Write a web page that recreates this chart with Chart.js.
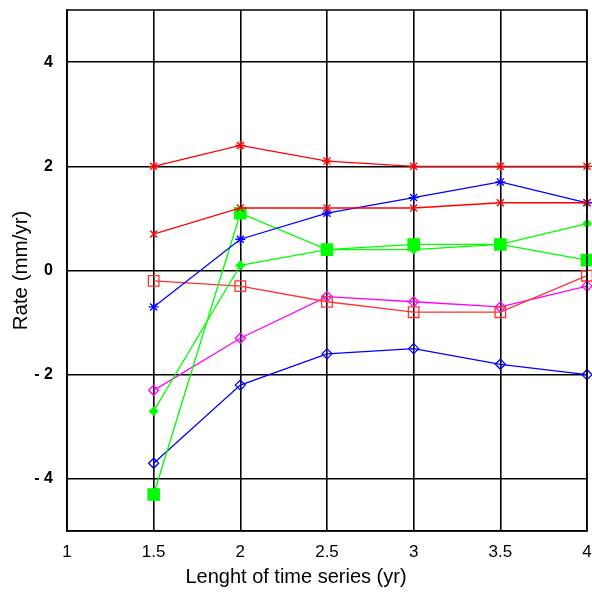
<!DOCTYPE html>
<html>
<head>
<meta charset="utf-8">
<script src="https://cdn.jsdelivr.net/npm/chart.js@4"></script>
<style>
  html, body { margin: 0; padding: 0; background: #fff; }
  #wrap { width: 592px; height: 592px; }
</style>
</head>
<body>
<div id="wrap"><canvas id="rateChart"></canvas></div>
<script>
const lengths = [1.5, 2, 2.5, 3, 3.5, 4];
const yTicks = [-4, -2, 0, 2, 4];

const redStar = [2.0, 2.4, 2.1, 2.0, 2.0, 2.0];
const redCross = [0.7, 1.2, 1.2, 1.2, 1.3, 1.3];
const blueStar = [-0.7, 0.6, 1.1, 1.4, 1.7, 1.3];
const greenDiamond = [-2.7, 0.1, 0.4, 0.4, 0.5, 0.9];
const greenSquare = [-4.3, 1.1, 0.4, 0.5, 0.5, 0.2];
const redSquare = [-0.2, -0.3, -0.6, -0.8, -0.8, -0.1];
const magentaDiamond = [-2.3, -1.3, -0.5, -0.6, -0.7, -0.3];
const blueDiamond = [-3.7, -2.2, -1.6, -1.5, -1.8, -2.0];

function pts(values) {
    return lengths.map((x, i) => ({ x: x, y: values[i] }));
}

function series(values, color, style, radius, filled) {
    return {
        data: pts(values),
        borderColor: color,
        borderWidth: 1.3,
        pointStyle: style,
        pointRadius: radius,
        pointBorderColor: color,
        pointBorderWidth: 1.3,
        pointBackgroundColor: filled ? color : 'rgba(0,0,0,0)',
        fill: false,
        tension: 0
    };
}

// frame around the plot area
const framePlugin = {
    id: 'frame',
    afterDraw(chart) {
        const a = chart.chartArea;
        const ctx = chart.ctx;
        ctx.save();
        ctx.strokeStyle = '#000';
        ctx.lineWidth = 1.5;
        ctx.strokeRect(a.left, a.top, a.right - a.left, a.bottom - a.top);
        ctx.restore();
    }
};

const ctx = document.getElementById('rateChart').getContext('2d');
new Chart(ctx, {
    type: 'line',
    data: {
        datasets: [
            series(redStar, '#ff0000', 'star', 5, false),
            series(redCross, '#ff0000', 'crossRot', 5, false),
            series(blueStar, '#0000ff', 'star', 5, false),
            series(greenDiamond, '#00ff00', 'rectRot', 4, true),
            series(greenSquare, '#00ff00', 'rect', 8, true),
            series(redSquare, '#ff3333', 'rect', 7.5, false),
            series(magentaDiamond, '#ff00ff', 'rectRot', 5, false),
            series(blueDiamond, '#0000ff', 'rectRot', 5, false)
        ]
    },
    options: {
        responsive: true,
        maintainAspectRatio: false,
        animation: false,
        clip: false,
        layout: { autoPadding: false, padding: { top: 10, right: 0, bottom: 0, left: 0 } },
        plugins: {
            legend: { display: false },
            tooltip: { enabled: false },
            title: {
                display: true,
                position: 'bottom',
                text: 'Lenght of time series (yr)',
                color: '#000',
                padding: { top: 2, bottom: 3 },
                font: { family: 'Liberation Sans', size: 20, weight: 'normal' }
            }
        },
        scales: {
            x: {
                type: 'linear',
                min: 1,
                max: 4,
                afterFit(axis) {
                    axis.height = 32;
                    axis.paddingLeft = 0;
                    axis.paddingRight = 5;
                },
                ticks: {
                    stepSize: 0.5,
                    color: '#000',
                    padding: 11,
                    font: { family: 'Liberation Sans', size: 17 },
                    callback: v => String(v)
                },
                grid: { color: '#000', lineWidth: 1.6, drawTicks: false },
                border: { color: '#000', width: 1.5 }
            },
            y: {
                min: -5,
                max: 5,
                afterBuildTicks(axis) {
                    axis.ticks = yTicks.map(v => ({ value: v }));
                },
                afterFit(axis) {
                    axis.width = 67;
                    axis.paddingTop = 0;
                    axis.paddingBottom = 0;
                },
                ticks: {
                    color: '#000',
                    padding: 14,
                    font: { family: 'Liberation Sans', size: 16, weight: 'bold' },
                    callback: v => (v < 0 ? '- ' + Math.abs(v) : String(v))
                },
                grid: { color: '#000', lineWidth: 1.4, drawTicks: false },
                border: { color: '#000', width: 1.5 },
                title: {
                    display: true,
                    text: 'Rate (mm/yr)',
                    color: '#000',
                    padding: { top: 9, bottom: 0 },
                    font: { family: 'Liberation Sans', size: 20.5 }
                }
            }
        }
    },
    plugins: [framePlugin]
});
</script>
</body>
</html>
